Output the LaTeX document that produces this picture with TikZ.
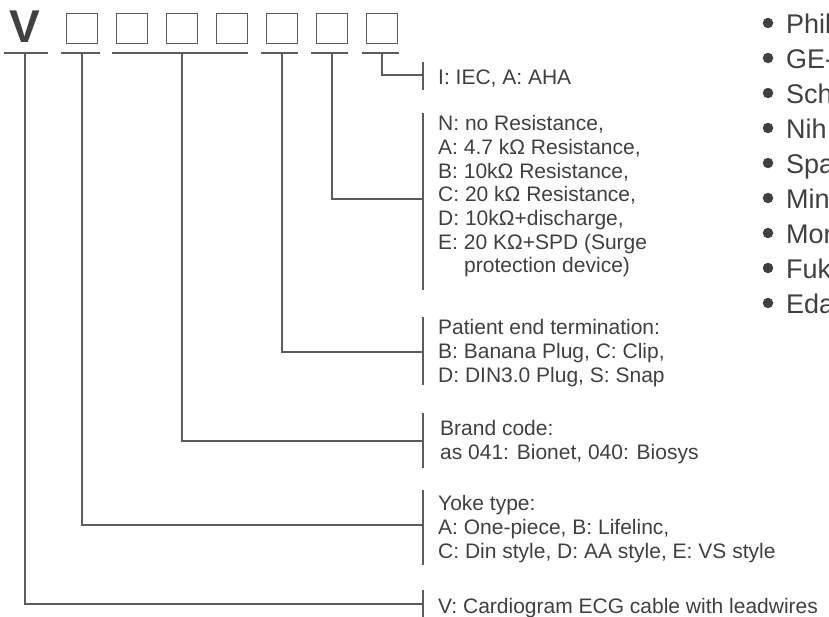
\documentclass[tikz,border=0pt]{standalone}
\usepackage{fontspec}
\setmainfont{Liberation Sans}
\definecolor{txt}{HTML}{404040}
\definecolor{ln}{HTML}{5C5C5C}
\tikzset{
  codebox/.style={draw=ln, line width=1.8pt, minimum width=31pt, minimum height=30pt, inner sep=0pt, anchor=north west},
  wire/.style={draw=ln, line width=1.8pt},
  desc/.style={anchor=north west, inner sep=0pt, align=left, text=txt, font=\fontsize{21}{23.7}\selectfont},
  brand/.style={anchor=base west, inner sep=0pt, text=txt, font=\fontsize{27}{30}\selectfont},
  dot/.style={fill=txt, draw=none, circle, minimum size=10.5pt, inner sep=0pt}
}
\begin{document}
\begin{tikzpicture}[x=1pt, y=-1pt]
\useasboundingbox (0,0) rectangle (829,616);
% code letters
\node[text=txt, font=\fontsize{46}{46}\selectfont\bfseries, inner sep=0pt] (vl) at (25,27) {V};
\foreach \i in {1,...,7} {
  \node[codebox] (c\i) at ({65.5+50*(\i-1)},12.5) {};
}
% underlines
\coordinate (uV) at (25,53);
\draw[wire] (4,53) -- (48,53);
\draw[wire] (61,53) -- (100,53);
\draw[wire] (112,53) -- (248,53);
\draw[wire] (261,53) -- (298,53);
\draw[wire] (311,53) -- (348,53);
\draw[wire] (362,53) -- (399,53);
\coordinate (u1) at (c1.center |- uV);
\coordinate (u3) at (c3.center |- uV);
\coordinate (u5) at (c5.center |- uV);
\coordinate (u6) at (c6.center |- uV);
\coordinate (u7) at (c7.center |- uV);
% descriptions
\node[desc] (d7) at (438,67.9) {\strut I: IEC, A: AHA};
\node[desc] (d6) at (438,113.9) {\strut N: no Resistance,\\A: 4.7 kΩ Resistance,\\B: 10kΩ Resistance,\\C: 20 kΩ Resistance,\\D: 10kΩ+discharge,\\E: 20 KΩ+SPD (Surge\\\hspace*{26pt}protection device)};
\node[desc] (d5) at (438,317.9) {\strut Patient end termination:\\B: Banana Plug, C: Clip,\\D: DIN3.0 Plug, S: Snap};
\node[desc] (d3) at (440,418.9) {\strut Brand code:\\as 041: Bionet, 040: Biosys};
\node[desc] (d1) at (438,493.9) {\strut Yoke type:\\A: One-piece, B: Lifelinc,\\C: Din style, D: AA style, E: VS style};
\node[desc] (dV) at (438,596.9) {\strut V: Cardiogram ECG cable with leadwires};
% brackets
\draw[wire] (423,62) -- (423,90);
\draw[wire] (423,113) -- (423,290);
\draw[wire] (423,317) -- (423,385);
\draw[wire] (423,413) -- (423,468);
\draw[wire] (423,490) -- (423,565);
\draw[wire] (423,590) -- (423,620);
\coordinate (b7) at (424,75);
\coordinate (b6) at (424,199);
\coordinate (b5) at (424,352);
\coordinate (b3) at (424,441);
\coordinate (b1) at (424,525);
\coordinate (bV) at (424,604);
% connectors
\draw[wire] (u7) |- (b7);
\draw[wire] (u6) |- (b6);
\draw[wire] (u5) |- (b5);
\draw[wire] (u3) |- (b3);
\draw[wire] (u1) |- (b1);
\draw[wire] (uV) |- (bV);
% brand list
\foreach \n/\t in {0/Phil,1/GE-,2/Sch,3/Nih,4/Spa,5/Min,6/Mor,7/Fuk,8/Eda} {
  \node[dot] (p\n) at (768,{23+35*\n}) {};
  \node[brand] (t\n) at (786,{33+35*\n}) {\t};
}
\end{tikzpicture}
\end{document}
